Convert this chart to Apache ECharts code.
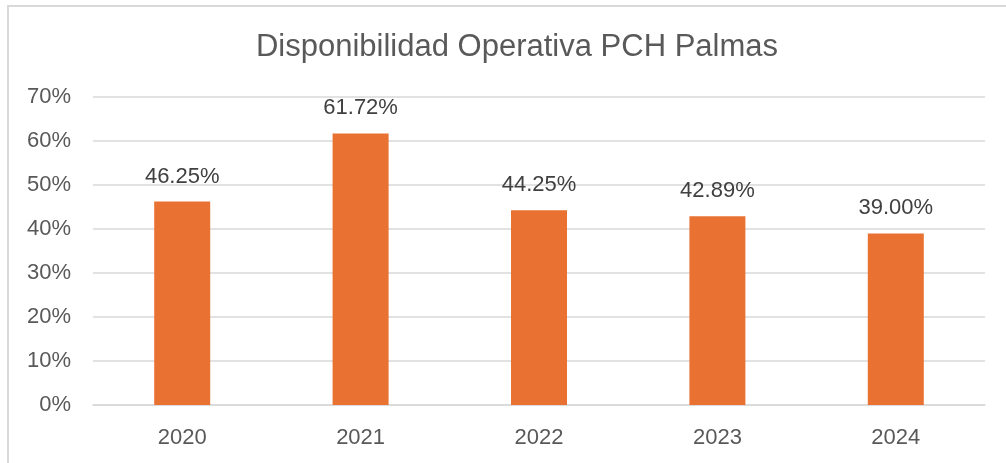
<!DOCTYPE html>
<html><head><meta charset="utf-8">
<script src="https://cdn.jsdelivr.net/npm/echarts@6/dist/echarts.min.js"></script>
<style>
html,body{margin:0;padding:0;background:#fff;}
#frame{position:absolute;left:7px;top:5px;width:1010px;height:470px;border-left:2px solid #d9d9d9;border-top:2px solid #d9d9d9;box-sizing:border-box;}
#c{position:absolute;left:0;top:0;width:1006px;height:463px;}
</style></head><body>
<div id="frame"></div>
<div id="c"></div>
<script>
const titleText = 'Disponibilidad Operativa PCH Palmas';
const categories = ['2020','2021','2022','2023','2024'];
const values = [46.25, 61.72, 44.25, 42.89, 39.00];
const yTicks = [0,10,20,30,40,50,60,70];

const chart = echarts.init(document.getElementById('c'), null, {renderer:'canvas'});
chart.setOption({
  animation:false,
  title:{text:titleText,left:512,textAlign:'center',top:27,textStyle:{fontFamily:'Liberation Sans, Arial, sans-serif',fontSize:31,fontWeight:'normal',color:'#595959'}},
  grid:{left:93,right:21,top:97,bottom:58},
  xAxis:{type:'category',data:categories,
    axisLine:{lineStyle:{color:'#d9d9d9',width:1.5}},axisTick:{show:false},
    axisLabel:{fontFamily:'Liberation Sans, Arial, sans-serif',fontSize:22,color:'#595959',margin:22}},
  yAxis:{type:'value',min:0,max:70,interval:10,
    axisLine:{show:false},axisTick:{show:false},
    splitLine:{lineStyle:{color:'#d9d9d9',width:1.5}},
    axisLabel:{fontFamily:'Liberation Sans, Arial, sans-serif',fontSize:22,color:'#595959',margin:22,formatter:v=>v+'%'}},
  series:[{type:'bar',data:values,barWidth:56,itemStyle:{color:'#E97132'},
    label:{show:true,position:'top',distance:14,fontFamily:'Liberation Sans, Arial, sans-serif',fontSize:22,color:'#404040',formatter:p=>p.value.toFixed(2)+'%'}}]
});
</script>
</body></html>
